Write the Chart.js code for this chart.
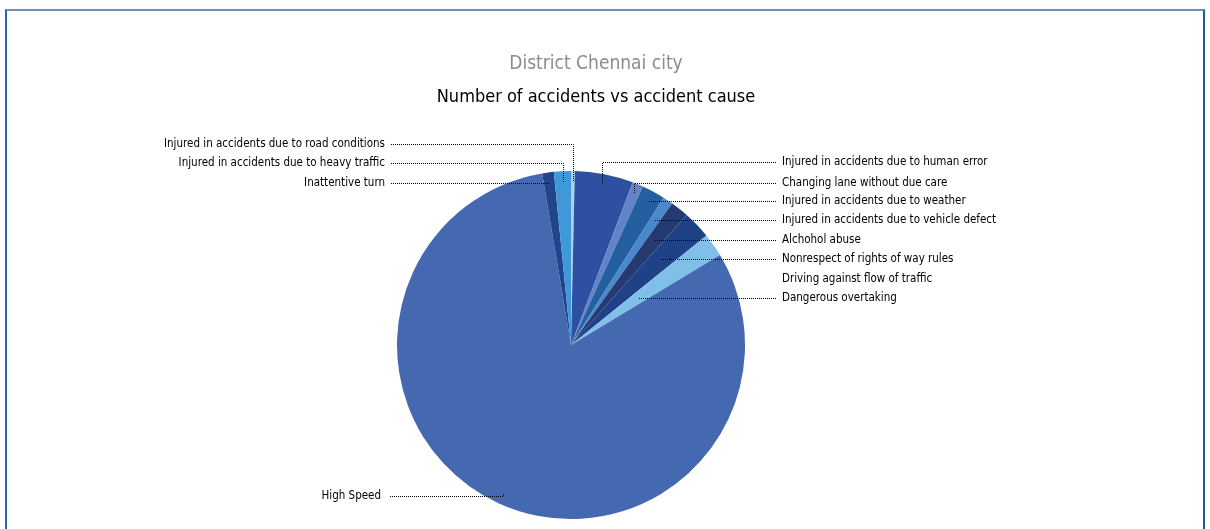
<!DOCTYPE html>
<html>
<head>
<meta charset="utf-8">
<script src="https://cdn.jsdelivr.net/npm/chart.js@4.4.1/dist/chart.umd.min.js"></script>
<style>
  html, body { margin: 0; padding: 0; background: #fff; }
  #wrap { position: relative; width: 1210px; height: 529px; }
  #frame {
    position: absolute; left: 5px; top: 9px; width: 1196px; height: 530px;
    border-left: 2px solid #2f62ad; border-right: 2px solid #1f57aa;
    border-top: 2px solid #6d8fc2;
  }
  canvas { position: absolute; left: 0; top: 0; }
</style>
</head>
<body>
<div id="wrap">
  <div id="frame"></div>
  <canvas id="pie" width="1210" height="529"></canvas>
</div>
<script>
const subtitleText = "District Chennai city";
const titleText = "Number of accidents vs accident cause";

const causes = [
  "Injured in accidents due to road conditions",
  "Injured in accidents due to human error",
  "Changing lane without due care",
  "Injured in accidents due to weather",
  "Injured in accidents due to vehicle defect",
  "Alchohol abuse",
  "Nonrespect of rights of way rules",
  "Driving against flow of traffic",
  "Dangerous overtaking",
  "High Speed",
  "Inattentive turn",
  "Injured in accidents due to heavy traffic",
];

const accidents = [14, 217, 40, 86, 38, 68, 104, 3, 84, 3241, 43, 63];

const sliceColors = [
  "#a9d3e8", "#2f4fa3", "#6283c6", "#24609f", "#4a88cc", "#243a70",
  "#1f4287", "#5b9bd5", "#7fbfe8", "#4469b1", "#22448a", "#3f98d8",
];

// where each label sits (side, text y); leader lines are computed from the arcs
const labelSpots = [
  { side: "left", y: 144 },
  { side: "right", y: 162 },
  { side: "right", y: 183 },
  { side: "right", y: 201 },
  { side: "right", y: 220 },
  { side: "right", y: 240 },
  { side: "right", y: 259 },
  { side: "right", y: 279, noLine: true },
  { side: "right", y: 298 },
  { side: "left", y: 496, x: 381, lineX: 390 },
  { side: "left", y: 183 },
  { side: "left", y: 163 },
];

const FONT = "'Liberation Sans Narrow', 'DejaVu Sans Condensed', sans-serif";

const calloutPlugin = {
  id: "callouts",
  afterDraw(chart) {
    const ctx = chart.ctx;
    const arcs = chart.getDatasetMeta(0).data;
    ctx.save();

    // titles
    ctx.textAlign = "center";
    ctx.textBaseline = "middle";
    ctx.fillStyle = "#8c8c8c";
    ctx.font = "19px " + FONT;
    ctx.fillText(subtitleText, 596, 64);
    ctx.fillStyle = "#000";
    ctx.font = "18px " + FONT;
    ctx.fillText(titleText, 596, 97);

    ctx.font = "11.5px " + FONT;
    ctx.textBaseline = "middle";
    arcs.forEach((arc, i) => {
      const spot = labelSpots[i];
      const right = spot.side === "right";
      const textX = spot.x || (right ? 782 : 385);
      const lineX = spot.lineX || (right ? 776 : 391);
      ctx.fillStyle = "#000";
      ctx.textAlign = right ? "left" : "right";
      ctx.fillText(causes[i], textX, spot.y);
      if (spot.noLine) return;

      const mid = (arc.startAngle + arc.endAngle) / 2;
      const reach = arc.outerRadius * 0.94;
      const dy = spot.y - arc.y;
      const s = Math.sin(mid);
      let r = Math.abs(s) > 1e-6 ? dy / s : -1;
      ctx.strokeStyle = "#000";
      ctx.lineWidth = 1;
      ctx.setLineDash([1, 1]);
      ctx.beginPath();
      ctx.moveTo(lineX, spot.y + 0.5);
      if (r > 0 && r <= reach) {
        ctx.lineTo(arc.x + r * Math.cos(mid), spot.y + 0.5);
      } else {
        const px = Math.round(arc.x + reach * Math.cos(mid)) + 0.5;
        const py = arc.y + reach * Math.sin(mid);
        ctx.lineTo(px, spot.y + 0.5);
        ctx.lineTo(px, py);
      }
      ctx.stroke();
    });
    ctx.restore();
  },
};

new Chart(document.getElementById("pie"), {
  type: "pie",
  data: {
    labels: causes,
    datasets: [
      {
        data: accidents,
        backgroundColor: sliceColors,
        borderWidth: 0,
      },
    ],
  },
  options: {
    responsive: false,
    animation: false,
    layout: { padding: { top: 171, bottom: 10, left: 397, right: 465 } },
    plugins: {
      legend: { display: false },
      tooltip: { enabled: false },
      title: { display: false },
    },
  },
  plugins: [calloutPlugin],
});
</script>
</body>
</html>
